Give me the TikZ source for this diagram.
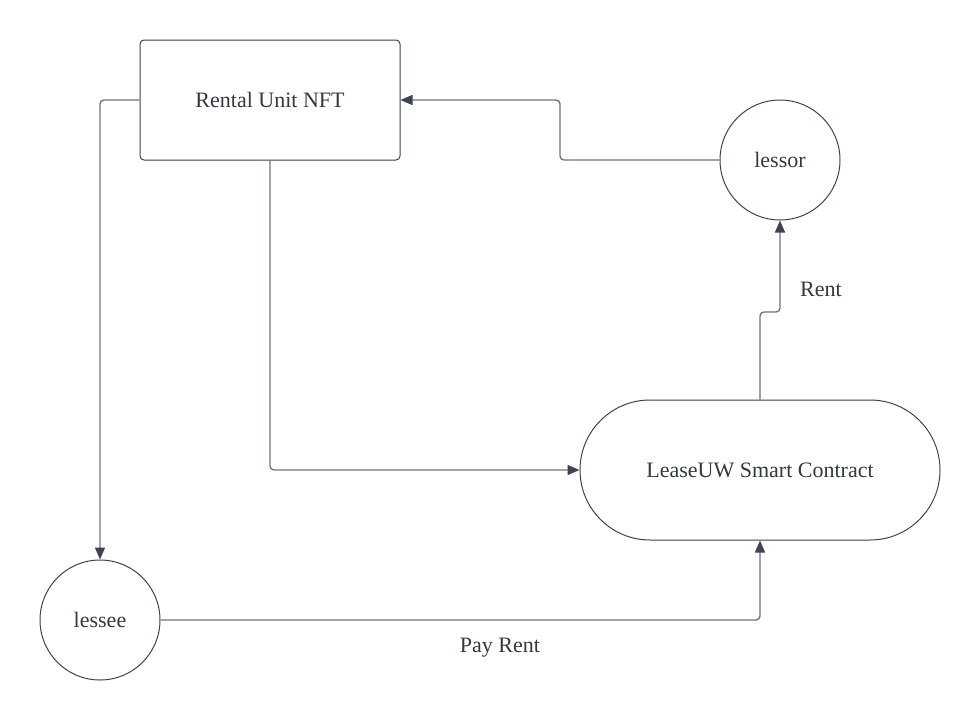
\documentclass[tikz,border=0pt]{standalone}
\usepackage{fontspec}
\setmainfont{Liberation Serif}
\usetikzlibrary{arrows.meta,calc}
\definecolor{shapeline}{HTML}{3D4350}
\definecolor{connline}{HTML}{707480}
\definecolor{txt}{HTML}{333842}
\tikzset{
  box/.style={draw=shapeline,line width=1pt,rounded corners=4pt,minimum width=260pt,minimum height=120pt,inner sep=0pt,text=txt,font=\fontsize{22}{26}\selectfont},
  circ/.style={draw=shapeline,line width=1pt,circle,minimum size=120pt,inner sep=0pt,text=txt,font=\fontsize{22}{26}\selectfont},
  stad/.style={draw=shapeline,line width=1pt,rounded corners=70pt,minimum width=360pt,minimum height=140pt,inner sep=0pt,text=txt,font=\fontsize{22}{26}\selectfont},
  conn/.style={draw=connline,line width=1.4pt,rounded corners=4pt,-{Triangle[length=12pt,width=10pt,color=shapeline]}},
  lbl/.style={text=txt,font=\fontsize{22}{26}\selectfont,inner sep=0pt}
}
\begin{document}
\begin{tikzpicture}[x=1pt,y=-1pt]
\useasboundingbox (0,0) rectangle (980,720);
\fill[white] (0,0) rectangle (980,720);
\node[box] (nft) at (270,100) {Rental Unit NFT};
\node[circ] (lessor) at (780,160) {lessor};
\node[circ] (lessee) at (100,620) {lessee};
\node[stad] (lease) at (760,470) {LeaseUW Smart Contract};
\coordinate (nftB) at (270,160);
\draw[conn] (lessor.west) -- (560,160) -- (560,100) -- (nft.east);
\draw[conn] (nft.west) -- (100,100) -- (lessee.north);
\draw[conn] (nftB) -- (270,470) -- (lease.west);
\draw[conn] (lease.north) -- (760,312) -- (780,312) -- (lessor.south);
\draw[conn] (lessee.east) -- (760,620) -- (lease.south);
\node[lbl] (rent) at (821,289) {Rent};
\node[lbl] (pay) at (500,648) {Pay Rent};
\end{tikzpicture}
\end{document}
